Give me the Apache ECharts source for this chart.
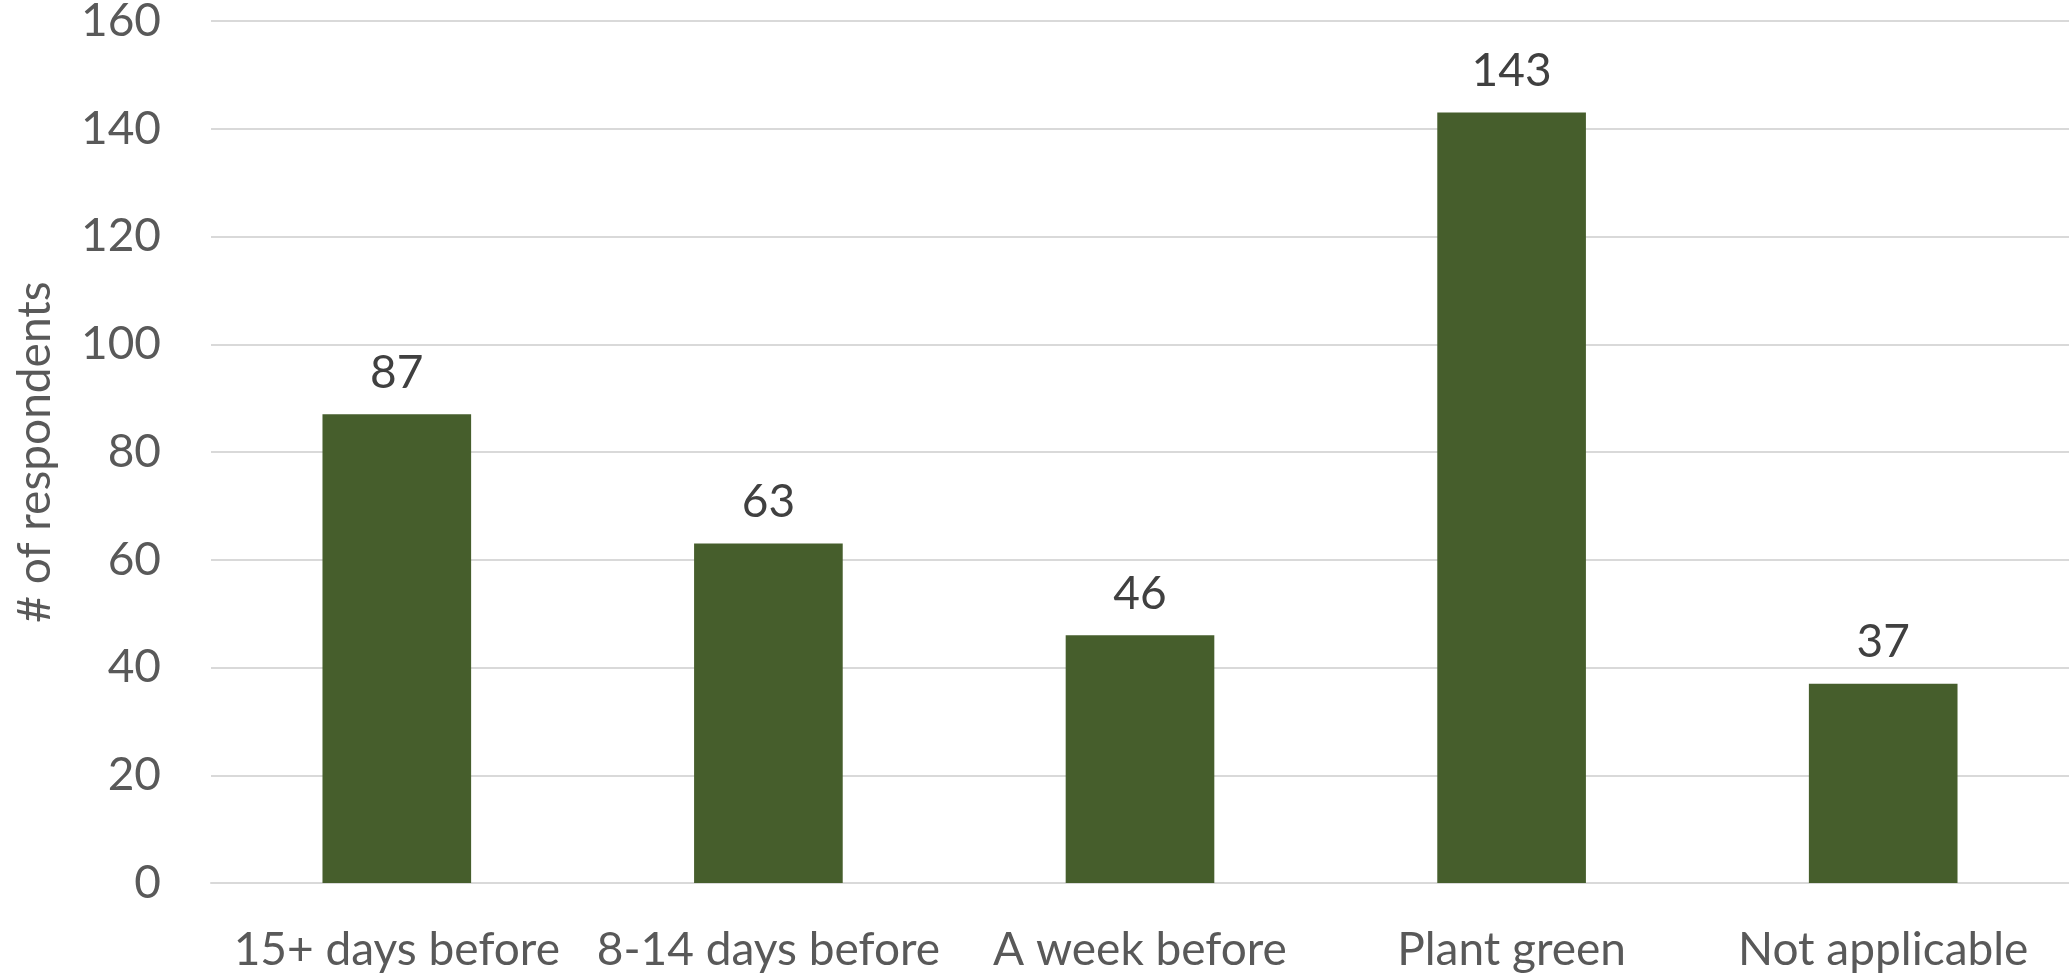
<!DOCTYPE html>
<html><head><meta charset="utf-8">
<script src="https://cdn.jsdelivr.net/npm/echarts@6/dist/echarts.min.js"></script>
<style>html,body{margin:0;padding:0;background:#fff}#c{width:2069px;height:976px}</style>
</head><body><div id="c"></div>
<script>
const categories = ['15+ days before', '8-14 days before', 'A week before', 'Plant green', 'Not applicable'];
const respondents = [87, 63, 46, 143, 37];
const yTicks = [0, 20, 40, 60, 80, 100, 120, 140, 160];

const FONT = 'Lato';
const chart = echarts.init(document.getElementById('c'), null, {renderer: 'canvas'});
chart.setOption({
  animation: false,
  grid: {left: 211, right: 0, top: 21, bottom: 93, containLabel: false, outerBoundsMode: 'none'},
  xAxis: {
    type: 'category', data: categories,
    axisLine: {show: true, lineStyle: {color: '#d9d9d9', width: 2}},
    axisTick: {show: false},
    axisLabel: {color: '#595959', fontFamily: FONT, fontSize: 46, margin: 44, interval: 0}
  },
  yAxis: {
    type: 'value', min: yTicks[0], max: yTicks[yTicks.length - 1], interval: 20,
    name: '# of respondents', nameLocation: 'middle', nameGap: 153,
    nameTextStyle: {color: '#595959', fontFamily: FONT, fontSize: 46},
    axisLine: {show: false}, axisTick: {show: false},
    axisLabel: {color: '#595959', fontFamily: FONT, fontSize: 46, margin: 50},
    splitLine: {lineStyle: {color: '#d9d9d9', width: 2}}
  },
  series: [{
    type: 'bar', data: respondents, barWidth: '40%',
    itemStyle: {color: '#465e2c'},
    label: {show: true, position: 'top', distance: 18, color: '#404040', fontFamily: FONT, fontSize: 46}
  }]
});
</script></body></html>
